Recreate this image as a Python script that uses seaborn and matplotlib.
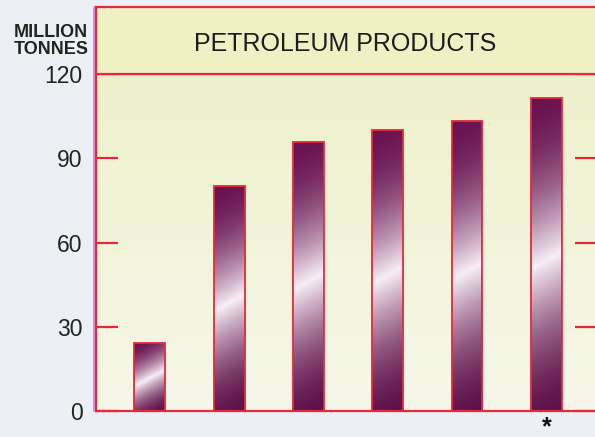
import numpy as np
import pandas as pd
import matplotlib
matplotlib.use('Agg')
import matplotlib.pyplot as plt
import seaborn as sns
from matplotlib.colors import to_rgb
from matplotlib.lines import Line2D

# values (million tonnes)
periods = ['P1', 'P2', 'P3', 'P4', 'P5', 'P6']
tonnes = [24.1, 80.1, 95.8, 100.1, 103.4, 111.6]
marks = ['', '', '', '', '', '*']
yticks = [0, 30, 60, 90, 120]

RED = '#e8283a'

sns.set_theme(style='white')
plt.rcParams['font.family'] = ['Liberation Sans', 'DejaVu Sans']

df = pd.DataFrame({'period': periods, 'tonnes': tonnes})

fig = plt.figure(figsize=(5.95, 4.37), dpi=100)
fig.patch.set_facecolor('#eceff3')

# main plot area (right edge runs just past the picture, as in the scan)
ax = fig.add_axes([96/595, 26/437, 501/595, 337/437])
sns.barplot(data=df, x='period', y='tonnes', width=0.39, color='#6b1252',
            saturation=1, ax=ax, zorder=3)

xmin, xmax = -0.68, 5.64
ax.set_xlim(xmin, xmax)
ax.set_ylim(0, 120)

# soft yellow background, a bit deeper near the top
bg_top = np.array(to_rgb('#eef1cb'))
bg_bot = np.array(to_rgb('#f6f7e9'))
fr = np.linspace(0, 1, 200)[:, None, None]
bg = bg_bot + (bg_top - bg_bot) * fr
ax.imshow(bg, extent=(xmin, xmax, 0, 120), origin='lower', aspect='auto', zorder=0)

# gradient fill for bars: dark purple ends, white diagonal streak
px_x = 501 / (xmax - xmin)
px_y = 337 / 120
dark_top = np.array(to_rgb('#6a1452'))
dark_bot = np.array(to_rgb('#5c1047'))
light = np.array(to_rgb('#f8eff7'))
for p in ax.patches:
    x0, y0, w, h = p.get_x(), p.get_y(), p.get_width(), p.get_height()
    nc = max(int(w * px_x), 2)
    nr = max(int(h * px_y), 2)
    X, Y = np.meshgrid(np.arange(nc), np.arange(nr))
    t = Y - 0.48 * nr - 0.55 * (X - nc / 2)
    b = np.clip(1 - np.abs(t) / (0.5 * nr + 8), 0, 1) ** 1.8
    dark = dark_bot + (dark_top - dark_bot) * (Y / nr)[..., None]
    img = dark * (1 - b[..., None]) + light * b[..., None]
    im = ax.imshow(img, extent=(x0, x0 + w, y0, y0 + h), origin='lower',
                   aspect='auto', zorder=2.5, interpolation='bilinear')
    im.set_clip_path(p)
    p.set_facecolor('none')
    p.set_edgecolor(RED)
    p.set_linewidth(1.3)

ax.set_xlim(xmin, xmax)
ax.set_ylim(0, 120)
ax.set_yticks(yticks)
ax.set_xticks(range(len(periods)))
ax.set_xticklabels(marks, fontweight='bold')
ax.set_xlabel('')
ax.set_ylabel('')
ax.tick_params(axis='y', direction='in', length=15.5, width=1.6, color=RED,
               left=True, right=True, labelsize=16.5, pad=9.5, labelcolor='#1d2620')
ax.tick_params(axis='x', length=0, labelsize=18, pad=3, labelcolor='#111111')
for s in ax.spines.values():
    s.set_color(RED)
    s.set_linewidth(1.6)

# title band
tax = fig.add_axes([96/595, 363/437, 501/595, 67/437])
tax.set_facecolor('#eff1c4')
tax.set_xticks([])
tax.set_yticks([])
for s in tax.spines.values():
    s.set_color(RED)
    s.set_linewidth(1.6)
tax.text(0.497, 0.45, 'PETROLEUM PRODUCTS', ha='center', va='center',
         fontsize=18, color='#1c1c1c', transform=tax.transAxes)

fig.add_artist(Line2D([94/595, 94/595], [1 - 411/437, 1 - 7/437],
                      color='#e07ad6', lw=1.2))

fig.text(51/595, 1 - 41/437, 'MILLION\nTONNES', ha='center', va='center',
         fontsize=13, fontweight='bold', color='#1d2620', linespacing=1.05)

fig.savefig('out.png', dpi=100)
